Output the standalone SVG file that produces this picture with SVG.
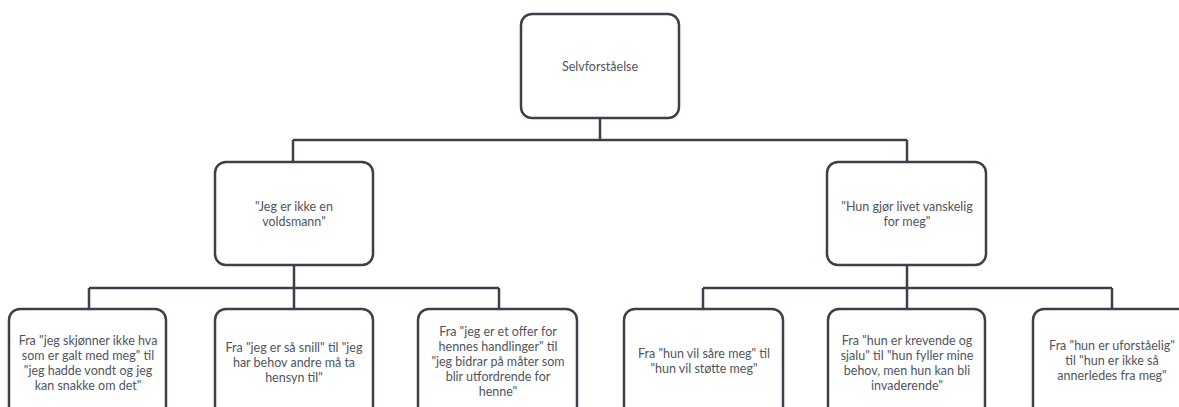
<svg xmlns="http://www.w3.org/2000/svg" width="1179" height="407" viewBox="0 0 1179 407">
<style>
.box{fill:#ffffff;stroke:#3b404b;stroke-width:2.5}
.conn{fill:none;stroke:#3b404b;stroke-width:2.5}
.t{font-family:Lato,"Liberation Sans",sans-serif;font-size:12.5px;fill:#50555f;text-anchor:middle}
</style>
<rect width="1179" height="407" fill="#ffffff"/>
<g id="connectors" class="conn">
<path d="M600 118V140M293 140H907M293 140V162M907 140V162"/>
<path d="M294 265V288M89 288H499M89 288V309M294 288V309M499 288V309"/>
<path d="M907 265V288M703 288H1112M703 288V309M907 288V309M1112 288V309"/>
</g>
<g id="n-root">
<rect class="box" x="521" y="14" width="158" height="104" rx="11"/>
<text class="t" x="600" y="71">Selvforståelse</text>
</g>
<g id="n-left">
<rect class="box" x="215" y="162" width="158" height="103" rx="11"/>
<text class="t" x="294" y="211">"Jeg er ikke en</text>
<text class="t" x="294" y="226">voldsmann"</text>
</g>
<g id="n-right">
<rect class="box" x="827" y="162" width="159" height="103" rx="11"/>
<text class="t" x="907" y="211">"Hun gjør livet vanskelig</text>
<text class="t" x="907" y="226">for meg"</text>
</g>
<g id="n-l1">
<rect class="box" x="9" y="309" width="157" height="110" rx="11"/>
<text class="t" x="88" y="345">Fra "jeg skjønner ikke hva</text>
<text class="t" x="88" y="360">som er galt med meg" til</text>
<text class="t" x="88" y="375">"jeg hadde vondt og jeg</text>
<text class="t" x="88" y="390">kan snakke om det"</text>
</g>
<g id="n-l2">
<rect class="box" x="215" y="309" width="158" height="110" rx="11"/>
<text class="t" x="294" y="352">Fra "jeg er så snill" til "jeg</text>
<text class="t" x="294" y="367">har behov andre må ta</text>
<text class="t" x="294" y="382">hensyn til"</text>
</g>
<g id="n-l3">
<rect class="box" x="418" y="309" width="159" height="110" rx="11"/>
<text class="t" x="498" y="336">Fra "jeg er et offer for</text>
<text class="t" x="498" y="351">hennes handlinger" til</text>
<text class="t" x="498" y="366">"jeg bidrar på måter som</text>
<text class="t" x="498" y="381">blir utfordrende for</text>
<text class="t" x="498" y="396">henne"</text>
</g>
<g id="n-r1">
<rect class="box" x="624" y="309" width="159" height="110" rx="11"/>
<text class="t" x="704" y="358">Fra "hun vil såre meg" til</text>
<text class="t" x="704" y="373">"hun vil støtte meg"</text>
</g>
<g id="n-r2">
<rect class="box" x="828" y="309" width="157" height="110" rx="11"/>
<text class="t" x="907" y="345">Fra "hun er krevende og</text>
<text class="t" x="907" y="360">sjalu" til  "hun fyller mine</text>
<text class="t" x="907" y="375">behov, men hun kan bli</text>
<text class="t" x="907" y="390">invaderende"</text>
</g>
<g id="n-r3">
<rect class="box" x="1033" y="309" width="158" height="110" rx="11"/>
<text class="t" x="1112" y="350">Fra "hun er uforståelig"</text>
<text class="t" x="1112" y="365">til "hun er ikke så</text>
<text class="t" x="1112" y="380">annerledes fra meg"</text>
</g>
</svg>
